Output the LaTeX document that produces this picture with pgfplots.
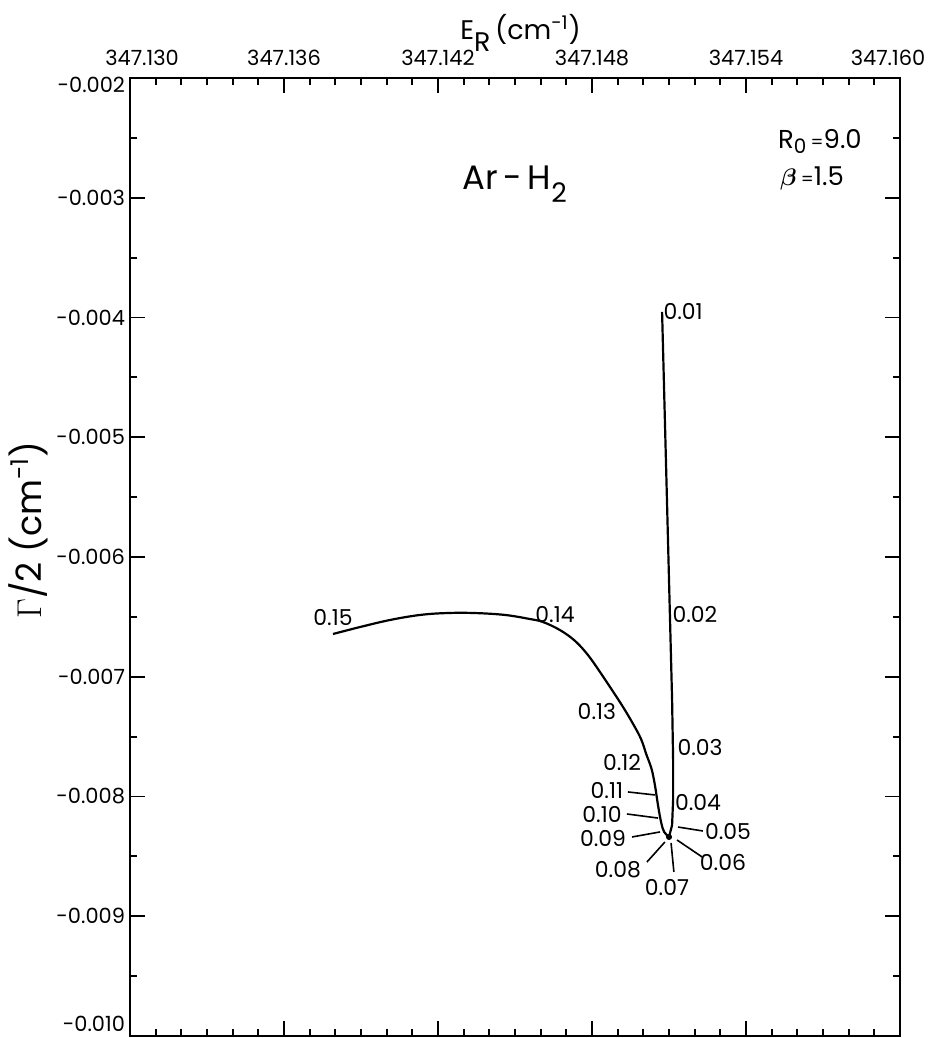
\documentclass[border=0pt]{standalone}
\usepackage{fontspec}
\setmainfont{Poppins}
\usepackage{bm}
\usepackage{pgfplots}
\pgfplotsset{compat=1.18}
\newcommand{\lbl}{\fontsize{11}{13}\selectfont}
% x values are E_R - 347.130, in units of 0.001 cm^-1
\begin{document}
\begin{tikzpicture}
\begin{axis}[
  scale only axis, width=385bp, height=479bp,
  xmin=0, xmax=30, ymin=-0.010, ymax=-0.002,
  xtick={0,6,12,18,24,30},
  xticklabels={\hspace*{12bp}347.130,347.136,347.142,347.148,347.154,347.160\hspace*{12bp}},
  minor x tick num=5,
  ytick={-0.010,-0.009,-0.008,-0.007,-0.006,-0.005,-0.004,-0.003,-0.002},
  yticklabels={\raisebox{6bp}[\height][\depth]{-0.010},-0.009,-0.008,-0.007,-0.006,-0.005,-0.004,-0.003,\raisebox{-3.5bp}[\height][\depth]{-0.002}},
  minor y tick num=1,
  scaled y ticks=false,
  xticklabel pos=right,
  tick pos=both, tick align=inside,
  major tick length=7.5bp, minor tick length=3.5bp,
  axis line style={line width=1bp},
  every tick/.style={black, line width=0.9bp},
  ticklabel style={font=\fontsize{10.5}{12}\selectfont},
  xticklabel style={yshift=2.5bp},
  yticklabel style={xshift=1bp},
  clip=false,
]
% descending branch 0.01 -> cusp
\addplot[black, line width=1.1bp] coordinates {
 (20.73,-0.003954) (20.92,-0.005524) (21.12,-0.007194)
 (21.16,-0.007695) (21.16,-0.008029) (21.12,-0.008238)
 (21.00,-0.008338)};
% curve from cusp to 0.15
\addplot[black, line width=1.1bp, smooth, tension=0.6] coordinates {
 (21.00,-0.008338) (20.81,-0.008296) (20.69,-0.008213)
 (20.57,-0.008071) (20.45,-0.007904) (20.32,-0.007770)
 (20.12,-0.007650) (19.91,-0.007520) (19.60,-0.007394)
 (19.21,-0.007253) (18.78,-0.007111) (18.31,-0.006960)
 (17.84,-0.006818) (17.34,-0.006701) (16.75,-0.006610)
 (16.09,-0.006543) (15.58,-0.006518) (14.61,-0.006484)
 (13.44,-0.006468) (12.35,-0.006468) (11.30,-0.006484)
 (10.13,-0.006526) (8.96,-0.006585) (7.91,-0.006643)};
\addplot[only marks, mark=*, mark size=1.3bp, black] coordinates {(21.00,-0.008338)};
% leader lines
\addplot[black, line width=0.8bp] coordinates {(19.40,-0.007962) (20.45,-0.007987)};
\addplot[black, line width=0.8bp] coordinates {(19.36,-0.008146) (20.57,-0.008180)};
\addplot[black, line width=0.8bp] coordinates {(19.56,-0.008338) (20.65,-0.008296)};
\addplot[black, line width=0.8bp] coordinates {(20.14,-0.008547) (20.84,-0.008380)};
\addplot[black, line width=0.8bp] coordinates {(21.19,-0.008630) (21.08,-0.008388)};
\addplot[black, line width=0.8bp] coordinates {(22.29,-0.008505) (21.31,-0.008363)};
\addplot[black, line width=0.8bp] coordinates {(22.32,-0.008288) (21.35,-0.008255)};
% point labels
\node[font=\lbl] at (axis cs:21.55,-0.003954) {0.01};
\node[font=\lbl] at (axis cs:22.01,-0.006484) {0.02};
\node[font=\lbl] at (axis cs:22.21,-0.007587) {0.03};
\node[font=\lbl] at (axis cs:22.13,-0.008054) {0.04};
\node[font=\lbl] at (axis cs:23.30,-0.008296) {0.05};
\node[font=\lbl] at (axis cs:23.10,-0.008547) {0.06};
\node[font=\lbl] at (axis cs:20.92,-0.008764) {0.07};
\node[font=\lbl] at (axis cs:19.01,-0.008614) {0.08};
\node[font=\lbl] at (axis cs:18.43,-0.008347) {0.09};
\node[font=\lbl] at (axis cs:18.39,-0.008154) {0.10};
\node[font=\lbl] at (axis cs:18.58,-0.007946) {0.11};
\node[font=\lbl] at (axis cs:19.17,-0.007720) {0.12};
\node[font=\lbl] at (axis cs:18.19,-0.007294) {0.13};
\node[font=\lbl] at (axis cs:16.56,-0.006484) {0.14};
\node[font=\lbl] at (axis cs:7.91,-0.006509) {0.15};
% annotations
\node[font=\fontsize{17}{19}\selectfont, anchor=base west, inner sep=0pt] at (axis cs:12.94,-0.002935) {Ar\,-\,H\raisebox{-6.5bp}{\fontsize{13.5}{15}\selectfont 2}};
\node[font=\fontsize{13}{15}\selectfont] at (axis cs:26.88,-0.002534) {R\raisebox{-0.35ex}{\fontsize{10}{12}\selectfont 0}\,{\fontsize{9}{10}\selectfont =}9.0};
\node[font=\fontsize{13}{15}\selectfont] at (axis cs:26.57,-0.002843) {$\bm{\beta}$\,{\fontsize{9}{10}\selectfont =}1.5};
% axis labels
\node[font=\fontsize{13.5}{15}\selectfont, anchor=base west, inner sep=0pt] at ([yshift=19bp]rel axis cs:0.4286,1) {E\raisebox{-6bp}{R}\,(cm\textsuperscript{-1})};
\node[rotate=90, font=\fontsize{17.5}{19}\selectfont] at ([xshift=-51bp]rel axis cs:0,0.528) {$\Gamma$/2 (cm\textsuperscript{-1})};
\coordinate (sw) at (rel axis cs:0,0);
\coordinate (ne) at (rel axis cs:1,1);
\end{axis}
\pgfresetboundingbox
\path[use as bounding box] ([shift={(-65bp,-1bp)}]sw) rectangle ([shift={(15bp,39bp)}]ne);
\end{tikzpicture}
\end{document}
